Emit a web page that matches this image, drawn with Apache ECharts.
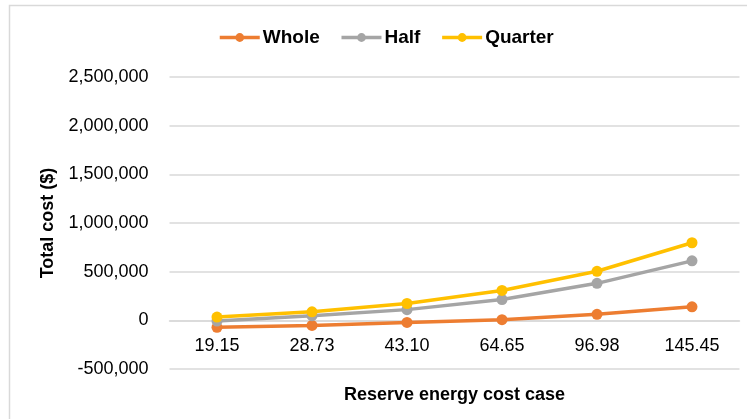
<!DOCTYPE html>
<html>
<head>
<meta charset="utf-8">
<script src="https://cdn.jsdelivr.net/npm/echarts@6/dist/echarts.min.js"></script>
<style>
  html, body { margin: 0; padding: 0; background: #fff; }
  #chart { width: 747px; height: 419px; }
</style>
</head>
<body>
<div id="chart"></div>
<script>
// Reserve energy cost cases (x axis categories)
const categories = ['19.15', '28.73', '43.10', '64.65', '96.98', '145.45'];

// Total cost ($) for each storage sizing
const wholeCost   = [-72000, -52000, -21000, 7000, 62000, 139000];
const halfCost    = [-8000, 48000, 110000, 214000, 380000, 611000];
const quarterCost = [33000, 87000, 173000, 307000, 504000, 797000];

const seriesNames = ['Whole', 'Half', 'Quarter'];
const seriesColors = ['#ED7D31', '#A5A5A5', '#FFC000'];
const seriesValues = [wholeCost, halfCost, quarterCost];

const FONT = '"Liberation Sans", Arial, sans-serif';
const chart = echarts.init(document.getElementById('chart'), null, { renderer: 'canvas' });

// plot area: -500,000 sits at the bottom edge, 0 one band (1/6 of height) above it
const gridTop = 77, gridBottom = 50;
const plotHeight = 419 - gridTop - gridBottom;
const zeroOffset = plotHeight / 6;

chart.setOption({
  animation: false,
  backgroundColor: '#ffffff',
  graphic: [{
    type: 'rect',
    shape: { x: 9.5, y: 5.5, width: 760, height: 440 },
    style: { fill: 'none', stroke: '#d9d9d9', lineWidth: 1.5 },
    silent: true
  }],
  legend: {
    top: 23,
    left: 213,
    itemWidth: 40,
    itemHeight: 11,
    itemGap: 20,
    data: seriesNames,
    lineStyle: { width: 3.5 },
    textStyle: { fontFamily: FONT, fontSize: 19, fontWeight: 'bold', color: '#000', padding: [0, 0, 0, -2] }
  },
  grid: { left: 169.5, right: 7.5, top: gridTop, bottom: gridBottom, outerBoundsMode: 'none', containLabel: false },
  xAxis: {
    type: 'category',
    data: categories,
    boundaryGap: true,
    offset: -zeroOffset,
    name: 'Reserve energy cost case',
    nameLocation: 'middle',
    nameGap: 66,
    nameTextStyle: { fontFamily: FONT, fontSize: 18, fontWeight: 'bold', color: '#000' },
    axisLine: { onZero: false, lineStyle: { color: '#d9d9d9', width: 1.5 } },
    axisTick: { show: false },
    axisLabel: { fontFamily: FONT, fontSize: 18, color: '#000', margin: 17 }
  },
  yAxis: {
    type: 'value',
    min: -500000,
    max: 2500000,
    interval: 500000,
    name: 'Total cost ($)',
    nameLocation: 'middle',
    nameGap: 111,
    nameRotate: 90,
    nameTextStyle: { fontFamily: FONT, fontSize: 18, fontWeight: 'bold', color: '#000' },
    axisLine: { show: false },
    axisTick: { show: false },
    splitLine: { lineStyle: { color: '#d9d9d9', width: 1.5 } },
    axisLabel: {
      fontFamily: FONT, fontSize: 18, color: '#000', margin: 21,
      formatter: v => v.toLocaleString('en-US')
    }
  },
  series: seriesNames.map((name, i) => ({
    name,
    type: 'line',
    data: seriesValues[i],
    color: seriesColors[i],
    symbol: 'circle',
    symbolSize: 11,
    lineStyle: { width: 3.5 },
    itemStyle: { color: seriesColors[i] }
  }))
});
</script>
</body>
</html>
